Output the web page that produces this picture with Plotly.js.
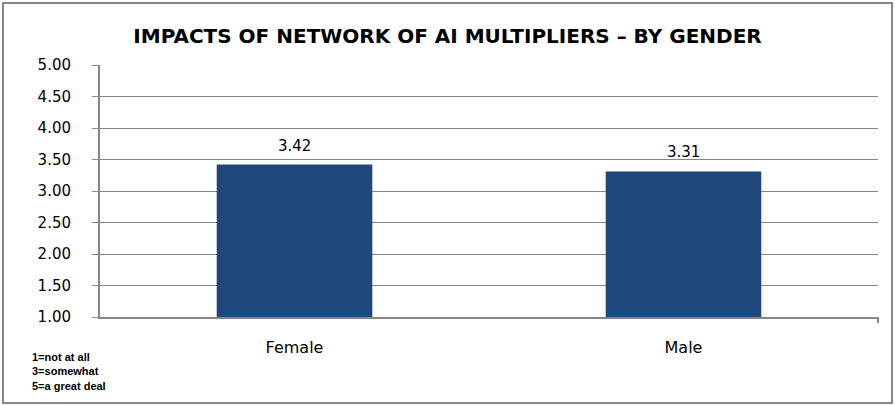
<!DOCTYPE html>
<html>
<head>
<meta charset="utf-8">
<script src="https://cdn.plot.ly/plotly-3.0.1.min.js"></script>
<style>
html,body{margin:0;padding:0;background:#fff;}
#chart{width:895px;height:405px;}
</style>
</head>
<body>
<div id="chart"></div>
<script>
const categories = ["Female", "Male"];
const values = [3.42, 3.31];
const labels = ["3.42", "3.31"];
const yTicks = [1, 1.5, 2, 2.5, 3, 3.5, 4, 4.5, 5];
const yTickLabels = ["1.00", "1.50", "2.00", "2.50", "3.00", "3.50", "4.00", "4.50", "5.00"];
const footnote = ["1=not at all", "3=somewhat", "5=a great deal"];
const axisBase = 1;

const FONT = "DejaVu Sans, Verdana, sans-serif";

const trace = {
  type: "bar",
  x: categories,
  y: values.map(v => v - axisBase),
  base: axisBase,
  marker: {color: "#1F497D"},
  hoverinfo: "skip"
};

const annotations = categories.map((c, i) => ({
  x: c, y: values[i], xref: "x", yref: "y",
  text: labels[i], showarrow: false, yanchor: "middle", yshift: 19,
  font: {family: FONT, size: 15, color: "#000"}
}));
annotations.push({
  xref: "paper", yref: "paper", x: -0.09, y: -0.125,
  xanchor: "left", yanchor: "top", align: "left",
  text: footnote.join("<br>"), showarrow: false,
  font: {family: "Liberation Sans, Arial, sans-serif", size: 11, color: "#000", weight: "bold"}
});

const layout = {
  width: 895, height: 405,
  margin: {l: 100, r: 17, t: 65, b: 88},
  paper_bgcolor: "#fff", plot_bgcolor: "#fff",
  showlegend: false,
  bargap: 0.6,
  title: {
    text: "IMPACTS OF NETWORK OF AI MULTIPLIERS \u2013 BY GENDER",
    x: 0.5, xref: "container", xanchor: "center", y: 0.91, yref: "container", yanchor: "middle",
    font: {family: FONT, size: 20, color: "#000", weight: "bold"}
  },
  xaxis: {
    type: "category",
    showgrid: false, zeroline: false,
    showline: true, linecolor: "#868686", linewidth: 2,
    ticks: "", tickfont: {family: FONT, size: 16, color: "#000"},
    ticklabelstandoff: 15
  },
  yaxis: {
    range: [1, 5], tickvals: yTicks, ticktext: yTickLabels,
    showgrid: true, gridcolor: "#868686", gridwidth: 1,
    showline: true, linecolor: "#868686", linewidth: 2,
    zeroline: false,
    ticks: "outside", ticklen: 6, tickcolor: "#868686",
    tickfont: {family: FONT, size: 15, color: "#000"},
    ticklabelstandoff: 18
  },
  annotations: annotations,
  shapes: [
    {type: "rect", xref: "paper", yref: "paper",
     x0: (3 - 100) / 778, x1: (892 - 100) / 778,
     y0: (317 - 403) / 252, y1: (317 - 3) / 252,
     line: {color: "#868686", width: 2}, fillcolor: "rgba(0,0,0,0)", layer: "below"},
    {type: "line", xref: "paper", yref: "paper", x0: 1, x1: 1, y0: 0, y1: -6 / 252,
     line: {color: "#868686", width: 2}}
  ]
};

Plotly.newPlot("chart", [trace], layout, {staticPlot: true, displayModeBar: false});
</script>
</body>
</html>
